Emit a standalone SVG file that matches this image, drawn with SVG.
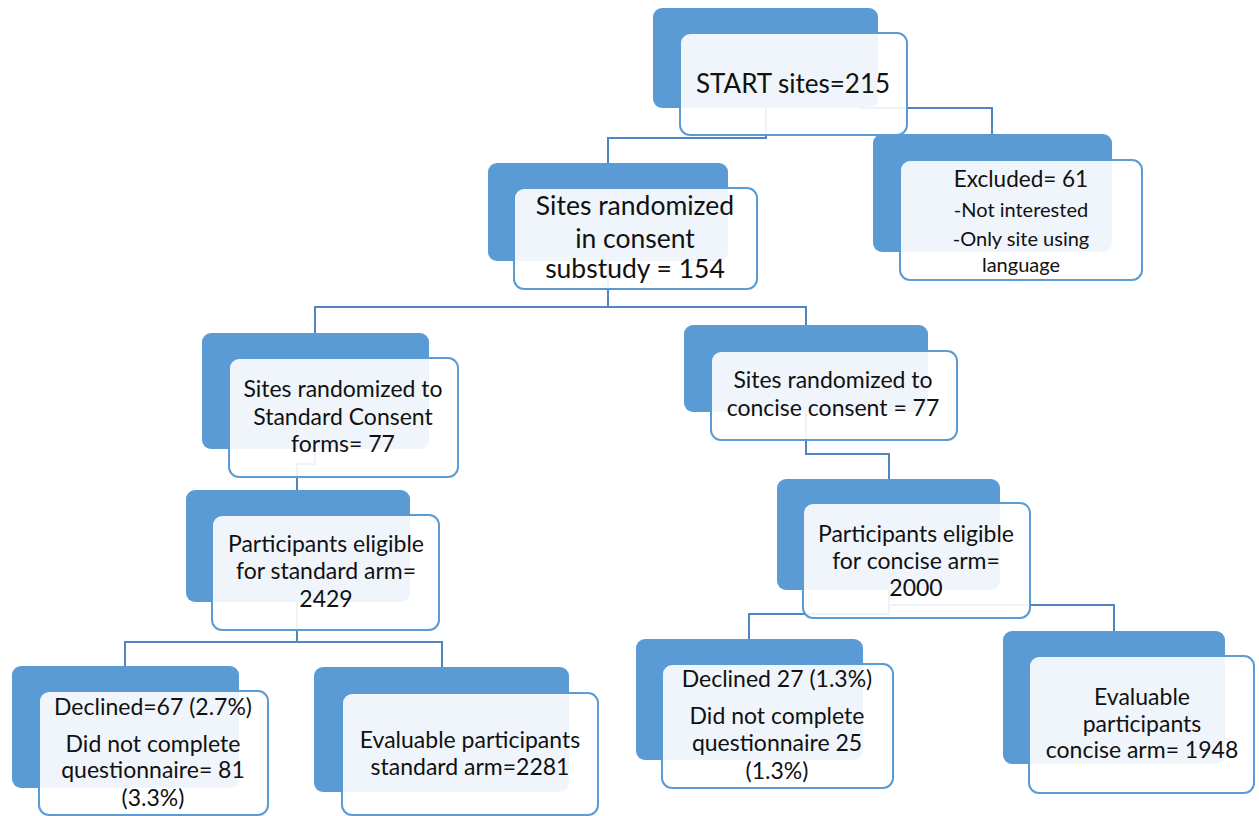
<svg xmlns="http://www.w3.org/2000/svg" width="1259" height="816" viewBox="0 0 1259 816">
<style>
.bg{fill:#5b9bd5;}
.fg{fill:#ffffff;fill-opacity:0.9;stroke:#5b9bd5;stroke-width:2;}
.cn{fill:none;stroke:#4f86c0;stroke-width:2;}
text{font-family:Lato,"Liberation Sans",sans-serif;fill:#111;text-anchor:middle;}
.t21{font-size:23px;}
.t23{font-size:22.5px;}
.t19{font-size:20px;}
.t26{font-size:26px;}
.t27{font-size:26.5px;}
</style>
<rect width="1259" height="816" fill="#ffffff"/>
<g id="connectors">
<path class="cn" d="M766,108 V138 H608 V163"/>
<path class="cn" d="M860,108 H992 V134"/>
<path class="cn" d="M608,261 V307 H315 V333"/>
<path class="cn" d="M608,307 H806 V325"/>
<path class="cn" d="M315,449 V464 H297 V490"/>
<path class="cn" d="M806,412 V454 H889 V479"/>
<path class="cn" d="M297,602 V642 H125 V666"/>
<path class="cn" d="M297,642 H442 V667"/>
<path class="cn" d="M889,590 V614 H749 V639"/>
<path class="cn" d="M889,590 V605 H1114 V631"/>
</g>
<g id="start">
<rect class="bg" x="653" y="8" width="225" height="100" rx="9"/>
<rect class="fg" x="680" y="33" width="227" height="102" rx="10"/>
<text class="t26" x="793" y="93">START sites=215</text>
</g>
<g id="excluded">
<rect class="bg" x="873" y="134" width="239" height="118" rx="9"/>
<rect class="fg" x="900" y="160" width="242" height="120" rx="10"/>
<text class="t23" x="1021" y="187">Excluded= 61</text>
<text class="t19" x="1021" y="217">-Not interested</text>
<text class="t19" x="1021" y="246">-Only site using</text>
<text class="t19" x="1021" y="272">language</text>
</g>
<g id="consent">
<rect class="bg" x="488" y="163" width="240" height="98" rx="9"/>
<rect class="fg" x="514" y="188" width="243" height="101" rx="10"/>
<text class="t27" x="635" y="215">Sites randomized</text>
<text class="t27" x="635" y="248">in consent</text>
<text class="t27" x="635" y="278">substudy = 154</text>
</g>
<g id="standard">
<rect class="bg" x="202" y="333" width="227" height="116" rx="9"/>
<rect class="fg" x="229" y="358" width="229" height="119" rx="10"/>
<text class="t21" x="343" y="397">Sites randomized to</text>
<text class="t21" x="343" y="425">Standard Consent</text>
<text class="t21" x="343" y="452">forms= 77</text>
</g>
<g id="concise">
<rect class="bg" x="684" y="325" width="244" height="87" rx="9"/>
<rect class="fg" x="711" y="351" width="246" height="89" rx="10"/>
<text class="t21" x="833" y="388">Sites randomized to</text>
<text class="t21" x="833" y="416">concise consent = 77</text>
</g>
<g id="eligible-standard">
<rect class="bg" x="186" y="490" width="224" height="112" rx="9"/>
<rect class="fg" x="212" y="515" width="227" height="115" rx="10"/>
<text class="t21" x="326" y="552">Participants eligible</text>
<text class="t21" x="326" y="579">for standard arm=</text>
<text class="t21" x="326" y="607">2429</text>
</g>
<g id="eligible-concise">
<rect class="bg" x="777" y="479" width="223" height="111" rx="9"/>
<rect class="fg" x="803" y="503" width="227" height="115" rx="10"/>
<text class="t21" x="916" y="542">Participants eligible</text>
<text class="t21" x="916" y="569">for concise arm=</text>
<text class="t21" x="916" y="596">2000</text>
</g>
<g id="declined-standard">
<rect class="bg" x="12" y="666" width="227" height="122" rx="9"/>
<rect class="fg" x="39" y="691" width="229" height="124" rx="10"/>
<text class="t21" x="153" y="715">Declined=67 (2.7%)</text>
<text class="t21" x="153" y="752">Did not complete</text>
<text class="t21" x="153" y="778">questionnaire= 81</text>
<text class="t21" x="153" y="806">(3.3%)</text>
</g>
<g id="evaluable-standard">
<rect class="bg" x="314" y="667" width="255" height="125" rx="9"/>
<rect class="fg" x="342" y="693" width="256" height="122" rx="10"/>
<text class="t21" x="470" y="748">Evaluable participants</text>
<text class="t21" x="470" y="775">standard arm=2281</text>
</g>
<g id="declined-concise">
<rect class="bg" x="636" y="639" width="227" height="121" rx="9"/>
<rect class="fg" x="662" y="664" width="231" height="124" rx="10"/>
<text class="t21" x="777" y="687">Declined 27 (1.3%)</text>
<text class="t21" x="777" y="724">Did not complete</text>
<text class="t21" x="777" y="751">questionnaire 25</text>
<text class="t21" x="777" y="779">(1.3%)</text>
</g>
<g id="evaluable-concise">
<rect class="bg" x="1003" y="631" width="222" height="133" rx="9"/>
<rect class="fg" x="1029" y="656" width="225" height="137" rx="10"/>
<text class="t21" x="1142" y="705">Evaluable</text>
<text class="t21" x="1142" y="732">participants</text>
<text class="t21" x="1142" y="758">concise arm= 1948</text>
</g>
</svg>
